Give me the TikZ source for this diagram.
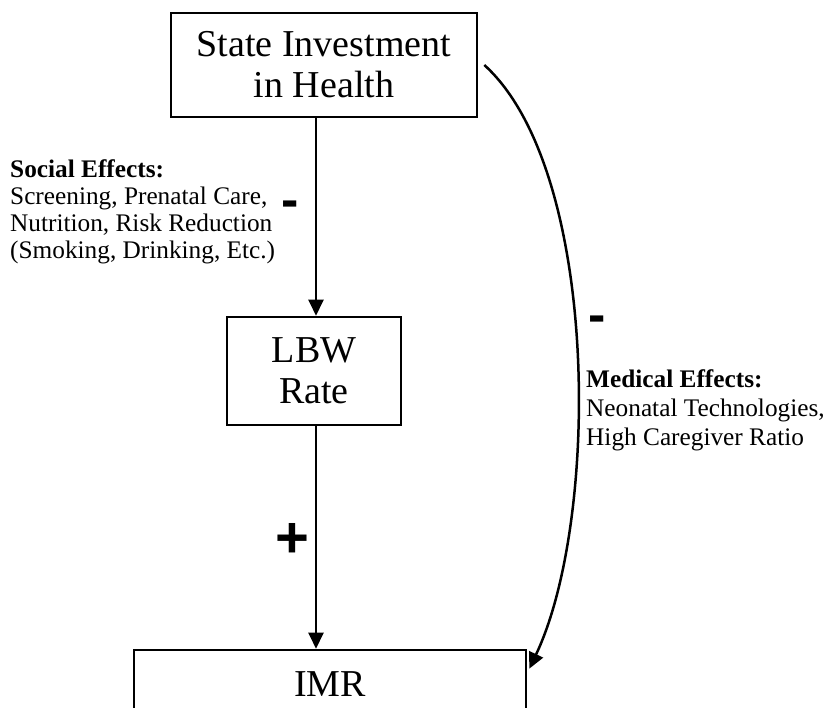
\documentclass[tikz,border=0pt]{standalone}
\usepackage{fontspec}
\setmainfont{Liberation Serif}
\newfontfamily\signfont{Liberation Sans}
\usetikzlibrary{arrows.meta}
\begin{document}
\begin{tikzpicture}[x=1pt,y=-1pt,
  box/.style={draw, line width=2.6pt, inner sep=0pt, align=center, font=\fontsize{38}{41}\selectfont},
  conn/.style={line width=2.5pt, -{Triangle[width=15pt,length=16pt]}},
  side/.style={anchor=base west, inner sep=0pt, font=\fontsize{25.3}{27}\selectfont},
  sidebold/.style={side, font=\fontsize{25.3}{27}\selectfont\bfseries},
  sign/.style={anchor=base, inner sep=0pt, font=\signfont\bfseries\fontsize{52}{52}\selectfont},
]
\useasboundingbox (0,0) rectangle (828,708);
\clip (0,0) rectangle (828,708);

\node[box, minimum width=306pt, minimum height=104pt] (top) at (324,65) {State Investment\\in Health};
\node[box, minimum width=174pt, minimum height=108pt] (lbw) at (314,371) {LBW\\Rate};
\node[box, minimum width=392pt, minimum height=69pt] (imr) at (330,684.5) {IMR};

\coordinate (ax) at (316,0);
\draw[conn] (top.south -| ax) -- (lbw.north -| ax);
\draw[conn] (lbw.south -| ax) -- (imr.north -| ax);
\draw[conn] ([xshift=6pt]top.east) .. controls (600,170) and (600,520) .. ([shift={(2pt,-20pt)}]imr.north east);

\node[sidebold] (s1) at (10,178) {Social Effects:};
\node[side] (s2) at (10,205) {Screening, Prenatal Care,};
\node[side] (s3) at (10,232) {Nutrition, Risk Reduction};
\node[side] (s4) at (10,259) {(Smoking, Drinking, Etc.)};

\node[sidebold] (m1) at (586,388) {Medical Effects:};
\node[side] (m2) at (586,417) {Neonatal Technologies,};
\node[side] (m3) at (586,446) {High Caregiver Ratio};

\node[sign] (minus1) at (290,217.5) {-};
\node[sign] (minus2) at (597,333) {-};
\node[sign, font=\signfont\bfseries\fontsize{58}{58}\selectfont] (plus) at (292,558) {+};
\end{tikzpicture}
\end{document}
